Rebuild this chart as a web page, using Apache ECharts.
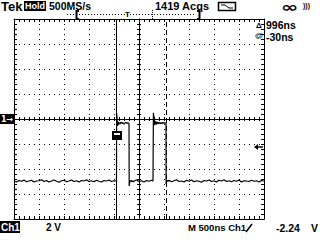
<!DOCTYPE html>
<html><head><meta charset="utf-8">
<script src="https://cdn.jsdelivr.net/npm/echarts@6/dist/echarts.min.js"></script>
<style>html,body{margin:0;padding:0;background:#fff}#c{width:320px;height:240px}</style>
</head><body><div id="c"></div>
<script>
// ---- data (time in microseconds, voltage in volts) ----
const timeUs = [
  0.00,0.05,0.10,0.15,0.20,0.25,0.30,0.35,0.40,0.45,0.50,0.55,0.60,0.65,0.70,0.75,0.80,0.85,0.90,0.95,
  1.00,1.05,1.10,1.15,1.20,1.25,1.30,1.35,1.40,1.45,1.50,1.55,1.60,1.65,1.70,1.75,1.80,1.85,1.90,1.95,2.00,2.03,
  2.05,2.052,2.06,2.07,2.08,2.09,2.10,2.12,2.14,2.16,2.18,2.20,2.22,2.24,2.26,2.28,2.30,
  2.304,2.31,2.32,2.34,2.36,2.38,2.40,2.45,2.50,2.55,2.60,2.65,2.70,2.75,2.78,
  2.786,2.788,2.80,2.81,2.82,2.84,2.86,2.88,2.90,2.92,2.94,2.96,2.98,3.00,3.02,3.04,
  3.042,3.05,3.06,3.08,
  3.10,3.15,3.20,3.25,3.30,3.35,3.40,3.45,3.50,3.55,3.60,3.65,3.70,3.75,3.80,3.85,3.90,3.95,4.00,4.05,
  4.10,4.15,4.20,4.25,4.30,4.35,4.40,4.45,4.50,4.55,4.60,4.65,4.70,4.75,4.80,4.85,4.90,4.95,5.00
];
const voltsV = [
  -4.96,-5.04,-4.92,-4.98,-4.88,-5.02,-4.96,-4.90,-5.04,-4.96,-4.94,-4.86,-5.00,-4.92,-5.04,-4.96,-4.88,-4.98,-5.06,-4.94,
  -4.90,-5.02,-4.96,-4.88,-5.00,-4.94,-5.04,-4.92,-4.96,-4.86,-5.00,-4.94,-5.02,-4.90,-4.98,-5.04,-4.92,-4.96,-4.88,-5.00,-4.94,-4.96,
  -4.96,0.48,0.10,-0.56,-0.20,-0.44,-0.28,-0.40,-0.24,-0.36,-0.30,-0.42,-0.32,-0.26,-0.36,-0.30,-0.34,
  -5.36,-5.20,-4.90,-5.00,-4.92,-5.04,-4.96,-4.88,-5.00,-4.94,-5.04,-4.92,-4.98,-4.90,-4.96,
  -4.96,0.50,0.10,-0.50,-0.16,-0.44,-0.22,-0.40,-0.26,-0.38,-0.30,-0.36,-0.28,-0.34,-0.30,-0.32,
  -5.20,-5.04,-4.92,-4.98,
  -4.90,-5.02,-4.94,-4.86,-5.00,-4.96,-5.04,-4.90,-4.98,-4.88,-5.02,-4.94,-4.98,-5.06,-4.92,-4.96,-4.88,-5.00,-4.94,-5.04,
  -4.90,-4.96,-4.86,-5.00,-4.94,-5.02,-4.92,-4.98,-4.88,-5.04,-4.94,-4.96,-5.00,-4.90,-4.98,-4.94,-5.04,-4.92,-4.96
];
const cursorTimesUs = [2.04, 3.036];
const triggerLevelV = -2.24;
const groundLevelV = 0;
const xRangeUs = [0, 5];
const yRangeV = [-8, 8];
const xDivUs = 0.5;
const yDivV = 2;

const chart = echarts.init(document.getElementById('c'), null, {renderer: 'svg', width: 320, height: 240});
const traceData = timeUs.map((t, i) => [t, voltsV[i]]);
const INK = '#000';
const F = '"Liberation Sans", Arial, sans-serif';
const FD = '"DejaVu Sans", sans-serif';

function xAx(extra) {
  return Object.assign({
    type: 'value', min: xRangeUs[0], max: xRangeUs[1], interval: xDivUs,
    axisLabel: {show: false}, splitLine: {show: false},
    axisLine: {show: true, onZero: false, lineStyle: {color: INK, width: 1}},
    axisTick: {show: true, inside: true, length: 3, lineStyle: {color: INK}},
    minorTick: {show: true, splitNumber: 5, length: 3, lineStyle: {color: INK}}
  }, extra);
}
function yAx(extra) {
  return Object.assign({
    type: 'value', min: yRangeV[0], max: yRangeV[1], interval: yDivV,
    axisLabel: {show: false}, splitLine: {show: false},
    axisLine: {show: true, onZero: false, lineStyle: {color: INK, width: 1}},
    axisTick: {show: true, inside: true, length: 3, lineStyle: {color: INK}},
    minorTick: {show: true, splitNumber: 5, length: 3, lineStyle: {color: INK}}
  }, extra);
}
const dotted = {show: true, lineStyle: {color: INK, width: 1, type: [1, 4]}};
const cTickIn = {show: true, inside: true, length: 2, lineStyle: {color: INK}};
const cTickOut = {show: true, inside: false, length: 2, lineStyle: {color: INK}};
const cMinor = {show: true, splitNumber: 5, length: 2, lineStyle: {color: INK}};

chart.setOption({
  animation: false,
  backgroundColor: '#fff',
  grid: {left: 14, top: 19, right: 56, bottom: 21, containLabel: false, outerBoundsMode: 'none'},
  xAxis: [
    xAx({position: 'bottom', splitLine: dotted}),
    xAx({position: 'top'}),
    xAx({position: 'bottom', offset: -100, axisTick: cTickIn, minorTick: cMinor}),
    xAx({position: 'bottom', offset: -100, axisTick: cTickOut, minorTick: cMinor})
  ],
  yAxis: [
    yAx({position: 'left', splitLine: dotted}),
    yAx({position: 'right'}),
    yAx({position: 'left', offset: -125, axisTick: cTickIn, minorTick: cMinor}),
    yAx({position: 'left', offset: -125, axisTick: cTickOut, minorTick: cMinor})
  ],
  series: [{
    type: 'line', xAxisIndex: 0, yAxisIndex: 0, data: traceData,
    showSymbol: false, symbol: 'none', smooth: false,
    lineStyle: {color: INK, width: 1.2}, silent: true, z: 5,
    markLine: {
      silent: true, symbol: ['none', 'none'], label: {show: false},
      data: [
        {xAxis: cursorTimesUs[0], lineStyle: {color: INK, width: 1, type: 'solid'}},
        {xAxis: cursorTimesUs[1], lineStyle: {color: INK, width: 1, type: [5, 3]}}
      ]
    }
  }]
});

const gnd = chart.convertToPixel({xAxisIndex: 0, yAxisIndex: 0}, [xRangeUs[0], groundLevelV]);
const trg = chart.convertToPixel({xAxisIndex: 0, yAxisIndex: 0}, [xRangeUs[1], triggerLevelV]);
const c1 = chart.convertToPixel({xAxisIndex: 0, yAxisIndex: 0}, [cursorTimesUs[0], -1.6]);

function txt(text, x, y, size, extra) {
  return {type: 'text', x: x, y: y, z: 100, style: Object.assign({text: text, fill: INK, font: 'bold ' + size + 'px ' + F, verticalAlign: 'top'}, extra || {})};
}
const inf = txt('∞', 281, 0, 14, {font: 'bold 14px ' + FD});
inf.scaleX = 1.5;

chart.setOption({
  graphic: [
    txt('Tek', 1, 0, 13),
    {type: 'rect', shape: {x: 24, y: 1, width: 22, height: 10}, style: {fill: INK}, z: 100},
    txt('Hold', 25, 1.5, 9, {fill: '#fff'}),
    txt('500MS/s', 49, 0, 10.5),
    txt('1419 Acqs', 155, 0, 11),
    {type: 'rect', shape: {x: 218.5, y: 2.5, width: 17, height: 8}, style: {fill: 'none', stroke: INK, lineWidth: 1.5}, z: 100},
    {type: 'polyline', shape: {points: [[221, 5], [225, 5], [229, 8], [233, 8]]}, style: {stroke: INK, lineWidth: 1, fill: 'none'}, z: 100},
    inf,
    txt(')))', 303, 2, 7),
    // record bar
    {type: 'line', shape: {x1: 67, y1: 14.5, x2: 196, y2: 14.5}, style: {stroke: INK, lineWidth: 1, lineDash: [1, 2]}, z: 100},
    {type: 'polyline', shape: {points: [[79, 11], [76.5, 11], [76.5, 19], [79, 19]]}, style: {stroke: INK, lineWidth: 2, fill: 'none'}, z: 100},
    {type: 'polyline', shape: {points: [[197, 11], [199.5, 11], [199.5, 19], [197, 19]]}, style: {stroke: INK, lineWidth: 2, fill: 'none'}, z: 100},
    txt('T', 125, 10, 8),
    {type: 'line', shape: {x1: 152.5, y1: 10, x2: 152.5, y2: 19}, style: {stroke: INK, lineWidth: 1, lineDash: [1, 1]}, z: 100},
    // cursor readouts
    txt('Δ', 256, 21, 8),
    txt('996ns', 266, 19, 10.5),
    txt('@', 255, 31, 8),
    txt('-30ns', 266, 31, 10.5),
    // ground marker
    {type: 'rect', shape: {x: 0, y: gnd[1] - 5, width: 14, height: 10}, style: {fill: INK}, z: 100},
    txt('1→', 1, gnd[1] - 4, 8, {fill: '#fff', font: 'bold 8px ' + FD}),
    // trigger level arrow
    {type: 'polygon', shape: {points: [[trg[0] - 10, trg[1]], [trg[0] - 6, trg[1] - 3], [trg[0] - 6, trg[1] + 3]]}, style: {fill: INK}, z: 100},
    {type: 'line', shape: {x1: trg[0] - 7, y1: trg[1], x2: trg[0] - 1, y2: trg[1]}, style: {stroke: INK, lineWidth: 1.5}, z: 100},
    // cursor box marker
    {type: 'rect', shape: {x: c1[0] - 4, y: c1[1] - 8, width: 10, height: 9}, style: {fill: INK}, z: 100},
    {type: 'rect', shape: {x: c1[0] - 2, y: c1[1] - 6, width: 6, height: 2}, style: {fill: '#fff'}, z: 101},
    // bottom status
    {type: 'rect', shape: {x: 0, y: 221, width: 20, height: 12}, style: {fill: INK}, z: 100},
    txt('Ch1', 1, 222, 10, {fill: '#fff'}),
    txt('2 V', 46, 222, 10),
    txt('M 500ns Ch1', 188, 222, 9.5),
    {type: 'line', shape: {x1: 246, y1: 232, x2: 252, y2: 224}, style: {stroke: INK, lineWidth: 1.5}, z: 100},
    txt('-2.24', 276, 222, 10.5),
    txt('V', 311, 222, 10.5)
  ]
});
</script></body></html>
